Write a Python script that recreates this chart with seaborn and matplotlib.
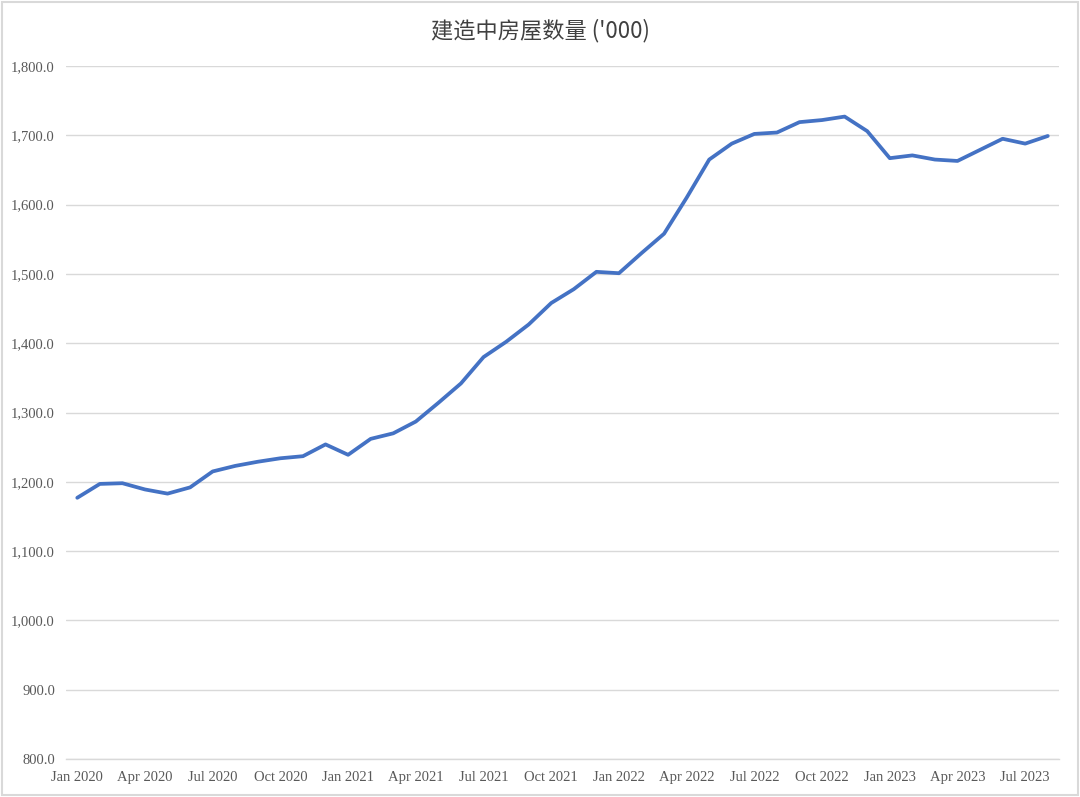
import matplotlib
matplotlib.use("Agg")
import matplotlib.pyplot as plt
import matplotlib.ticker as mticker
from matplotlib.patches import Rectangle
import seaborn as sns
import pandas as pd

months = ["Jan 2020", "Feb 2020", "Mar 2020", "Apr 2020", "May 2020", "Jun 2020",
          "Jul 2020", "Aug 2020", "Sep 2020", "Oct 2020", "Nov 2020", "Dec 2020",
          "Jan 2021", "Feb 2021", "Mar 2021", "Apr 2021", "May 2021", "Jun 2021",
          "Jul 2021", "Aug 2021", "Sep 2021", "Oct 2021", "Nov 2021", "Dec 2021",
          "Jan 2022", "Feb 2022", "Mar 2022", "Apr 2022", "May 2022", "Jun 2022",
          "Jul 2022", "Aug 2022", "Sep 2022", "Oct 2022", "Nov 2022", "Dec 2022",
          "Jan 2023", "Feb 2023", "Mar 2023", "Apr 2023", "May 2023", "Jun 2023",
          "Jul 2023", "Aug 2023"]
units = [1177, 1197, 1198, 1189, 1183, 1192, 1215, 1223, 1229, 1234, 1237, 1254,
         1239, 1262, 1270, 1287, 1314, 1342, 1380, 1402, 1427, 1458, 1478, 1503,
         1501, 1530, 1558, 1610, 1665, 1688, 1702, 1704, 1719, 1722, 1727, 1706,
         1667, 1671, 1665, 1663, 1679, 1695, 1688, 1699]
title = "建造中房屋数量 ('000)"

df = pd.DataFrame({"idx": range(len(months)), "month": months, "units": units})

sns.set_style("white")
plt.rcParams["font.family"] = ["Liberation Serif", "DejaVu Serif"]

fig = plt.figure(figsize=(10.8, 7.97), dpi=100)
ax = fig.add_axes([0.0611, 0.0476, 0.9195, 0.8696])

sns.lineplot(data=df, x="idx", y="units", ax=ax, color="#4472C4", linewidth=2.7)

ax.set_xlim(-0.5, len(months) - 0.5)
ax.set_ylim(800, 1800)
ax.yaxis.set_major_locator(mticker.MultipleLocator(100))
ax.yaxis.set_major_formatter(mticker.FuncFormatter(lambda v, p: f"{v:,.1f}"))
ax.grid(axis="y", color="#D9D9D9", linewidth=1)
ax.set_axisbelow(True)

label_pos = list(range(0, len(months), 3))
ax.set_xticks(label_pos)
ax.set_xticklabels([months[i] for i in label_pos])
ax.set_xticks([i - 0.5 for i in label_pos] + [len(months) - 0.5], minor=True)
ax.tick_params(axis="x", which="major", length=0, pad=8.5, labelsize=10.5, colors="#595959")
ax.tick_params(axis="x", which="minor", length=4, width=1, color="#D9D9D9", direction="out")
ax.tick_params(axis="y", length=0, pad=8, labelsize=10.5, colors="#595959")

for s in ["top", "right", "left"]:
    ax.spines[s].set_visible(False)
ax.spines["bottom"].set_color("#D9D9D9")
ax.spines["bottom"].set_linewidth(1)

ax.set_xlabel("")
ax.set_ylabel("")

fig.text(0.5, 0.961, title, ha="center", va="center", fontsize=16, color="#404040",
         family=["Noto Sans CJK SC", "DejaVu Sans"])

fig.patches.append(Rectangle((0.002, 0.002), 0.996, 0.996, transform=fig.transFigure,
                             fill=False, edgecolor="#D9D9D9", linewidth=1.5))

fig.savefig("out.png", dpi=100)
